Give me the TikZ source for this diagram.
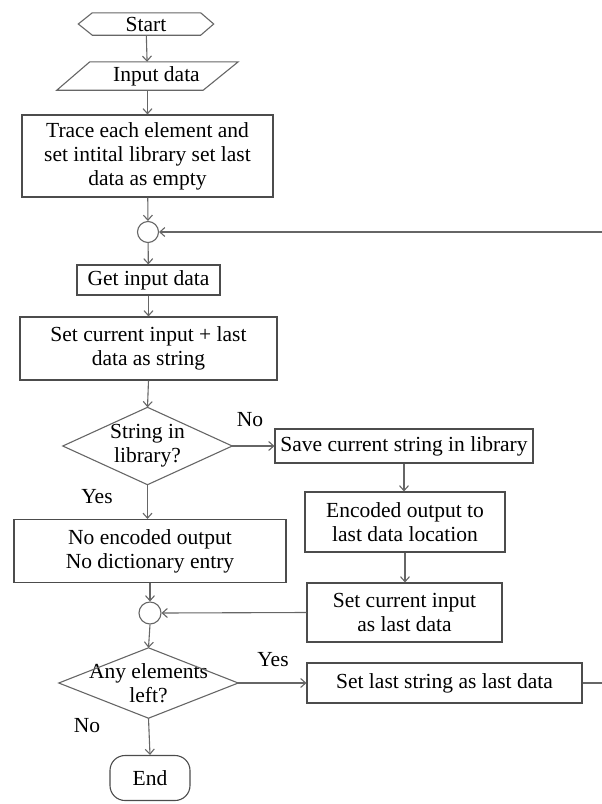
\documentclass[tikz,border=0pt]{standalone}
\usepackage{fontspec}
\setmainfont{Liberation Serif}
\usetikzlibrary{arrows.meta}
\tikzset{
	box/.style={draw=black!70, line width=1.1pt, inner sep=0pt, align=center},
	outline/.style={inner sep=0pt, align=center},
	line/.style={draw=black!60, line width=1.1pt},
	arr/.style={line, -{Straight Barb[length=5pt,width=9pt]}}
}
\begin{document}
\begin{tikzpicture}[x=1pt, y=-1pt, font=\fontsize{21.5pt}{24pt}\selectfont]
		\useasboundingbox (0,0) rectangle (602,804);
		\node[outline, minimum width=135, minimum height=22] (start) at (146,24) {Start};
		\draw[line] (start.west) -- ([xshift=14pt]start.north west) -- ([xshift=-13pt]start.north east) -- (start.east) -- ([xshift=-13pt]start.south east) -- ([xshift=14pt]start.south west) -- cycle;
		\node[outline, minimum width=181, minimum height=28] (input) at (147.5,76) {\hspace{18pt}Input data};
		\draw[line] ([xshift=33pt]input.north west) -- (input.north east) -- ([xshift=-35pt]input.south east) -- (input.south west) -- cycle;
		\node[box, minimum width=251, minimum height=82] (trace) at (147.5,156) {Trace each element and\\set intital library set last\\data as empty};
		\node[line, circle, minimum size=21, inner sep=0pt] (join1) at (148,232) {};
		\node[box, minimum width=143, minimum height=30] (getin) at (148.5,280) {Get input data};
		\node[box, minimum width=257, minimum height=63] (setcur) at (148.5,348.5) {Set current input + last\\data as string};
		\node[outline, minimum width=169, minimum height=77] (instr) at (147.5,446) {String in\\library?};
		\draw[line] (instr.north) -- (instr.east) -- (instr.south) -- (instr.west) -- cycle;
		\node[box, minimum width=258, minimum height=34] (save) at (404,446) {Save current string in library};
		\node[box, minimum width=200, minimum height=60] (encout) at (405,522) {Encoded output to\\last data location};
		\node[box, minimum width=272, minimum height=63] (noenc) at (150,551) {No encoded output\\No dictionary entry};
		\node[line, circle, minimum size=22, inner sep=0pt] (join2) at (150,613) {};
		\node[box, minimum width=195, minimum height=59] (setin) at (404.5,612.5) {Set current input\\as last data};
		\node[outline, minimum width=179, minimum height=70] (left) at (148.5,683) {Any elements\\left?};
		\draw[line] (left.north) -- (left.east) -- (left.south) -- (left.west) -- cycle;
		\node[box, minimum width=275, minimum height=40] (setlast) at (444.5,683) {Set last string as last data};
		\node[box, rounded corners=15pt, minimum width=80, minimum height=45] (stop) at (150,778) {End};
		\node (no1) at (250,420) {No};
		\node (yes1) at (97,497) {Yes};
		\node (yes2) at (273,660) {Yes};
		\node (no2) at (87,726) {No};
		\coordinate (back) at (604,450);
		\draw[arr] (start) -- (input);
		\draw[arr] (input) -- (trace);
		\draw[arr] (trace) -- (join1);
		\draw[arr] (join1) -- (getin);
		\draw[arr] (getin) -- (setcur);
		\draw[arr] (setcur.south) -- (instr.north);
		\draw[arr] (instr.east) -- (save.west);
		\draw[arr] (instr.south) -- (instr.south |- noenc.north);
		\draw[arr] (save.south) -- (save.south |- encout.north);
		\draw[arr] (encout.south) -- (encout.south |- setin.north);
		\draw[arr] (noenc.south) -- (join2.north);
		\draw[arr] (setin.west) -- (join2.east);
		\draw[arr] (join2.south) -- (left.north);
		\draw[arr] (left.east) -- (setlast.west);
		\draw[arr] (left.south) -- (stop.north);
		\draw[arr] (setlast.east) -- (setlast.east -| back) -- (back |- join1.east) -- (join1.east);
	\end{tikzpicture}
\end{document}
